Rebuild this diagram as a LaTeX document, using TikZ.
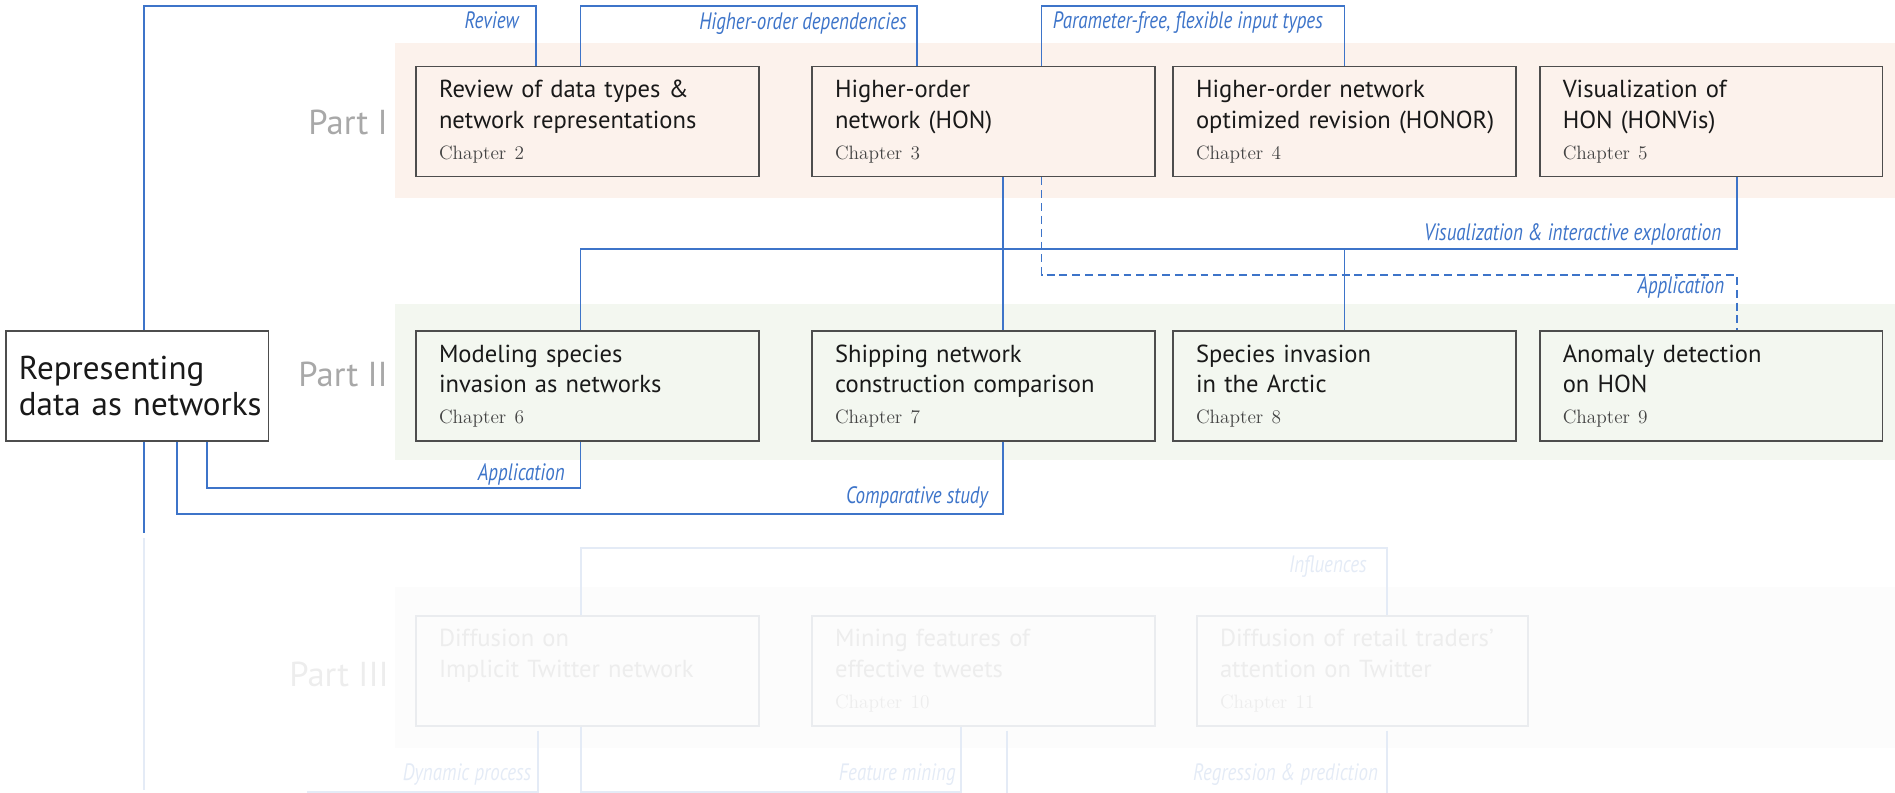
\documentclass[tikz,border=0pt]{standalone}
\usepackage{fontspec}
\usetikzlibrary{calc}
\newfontfamily\boxfont{PT Sans}
\newfontfamily\linkfont[FakeStretch=0.8]{PT Sans}
\definecolor{linkblue}{HTML}{3D74C9}
\definecolor{bgone}{HTML}{FCF2EC}
\definecolor{bgtwo}{HTML}{F3F7F0}
\definecolor{bgthree}{HTML}{FCFCFC}
\definecolor{boxgray}{HTML}{4D4D4D}
\definecolor{partgray}{HTML}{A8A8A8}
\definecolor{chapgray}{HTML}{444444}
\definecolor{fadetext}{HTML}{EDEDED}
\definecolor{fadeline}{HTML}{E4EBF6}
\definecolor{fadebox}{HTML}{EAECEF}
\newcommand{\chtext}[4][chapgray]{\makebox[0pt][l]{#2}\\\makebox[0pt][l]{#3}\\{\rmfamily\color{#1}\fontsize{11}{17.5}\selectfont #4}}
\begin{document}
\begin{tikzpicture}[x=0.02cm,y=-0.02cm,line join=miter,
	link/.style={draw=linkblue,line width=1.1pt},
	fadelink/.style={draw=fadeline,line width=1.1pt},
	lbl/.style={text=linkblue,font=\linkfont\itshape\fontsize{13.5}{15}\selectfont,inner sep=0pt,anchor=base east},
	chbox/.style={draw=boxgray,line width=0.9pt,minimum height=2.2cm,text width=5.94cm,inner xsep=0.46cm,inner ysep=0pt,align=left,font=\boxfont\fontsize{14}{17.5}\selectfont,text=black!90},
	fadebox/.style={chbox,draw=fadebox,text=fadetext},
	repbox/.style={draw=boxgray,fill=white,line width=0.9pt,minimum height=2.2cm,text width=4.73cm,inner xsep=0.26cm,align=left,font=\boxfont\fontsize{18.8}{20.8}\selectfont,text=black!90},
	partlbl/.style={text=partgray,font=\boxfont\fontsize{19.7}{22}\selectfont,inner sep=0pt,anchor=base east}]
	\useasboundingbox (0,0) rectangle (1895,793);
	\fill[bgone] (395,43.3) rectangle (1895,198.3);
	\fill[bgtwo] (395,304) rectangle (1895,460);
	\fill[bgthree] (395,586.7) rectangle (1895,748.3);
	\node[partlbl] (partone) at (388,135) {Part I};
	\node[partlbl] (parttwo) at (388,386.5) {Part II};
	\node[partlbl,text=fadetext] (partthree) at (389,686) {Part III};
	\node[repbox] (rep) at (137.2,386) {\makebox[0pt][l]{Representing}\\\makebox[0pt][l]{data as networks}};
	\node[chbox] (ch2) at (587.5,121.7) {\chtext{Review of data types \&}{network representations}{Chapter 2}};
	\node[chbox] (ch3) at (983.5,121.7) {\chtext{Higher-order}{network (HON)}{Chapter 3}};
	\node[chbox] (ch4) at (1344.5,121.7) {\chtext{Higher-order network}{optimized revision (HONOR)}{Chapter 4}};
	\node[chbox] (ch5) at (1711.2,121.7) {\chtext{Visualization of}{HON (HONVis)}{Chapter 5}};
	\node[chbox] (ch6) at (587.5,386) {\chtext{Modeling species}{invasion as networks}{Chapter 6}};
	\node[chbox] (ch7) at (983.5,386) {\chtext{Shipping network}{construction comparison}{Chapter 7}};
	\node[chbox] (ch8) at (1344.5,386) {\chtext{Species invasion}{in the Arctic}{Chapter 8}};
	\node[chbox] (ch9) at (1711.2,386) {\chtext{Anomaly detection}{on HON}{Chapter 9}};
	\node[fadebox] (diff) at (587.5,670.8) {\chtext[fadetext]{Diffusion on}{Implicit Twitter network}{\phantom{Chapter}}};
	\node[fadebox] (mining) at (983.5,670.8) {\chtext[fadetext]{Mining features of}{effective tweets}{Chapter 10}};
	\node[fadebox,text width=5.7cm] (ch11) at (1362.5,670.8) {\chtext[fadetext]{Diffusion of retail traders’}{attention on Twitter}{Chapter 11}};
	\coordinate (topbus) at (0,6);
	\coordinate (visbus) at (0,249.3);
	\coordinate (appbus) at (0,275);
	\coordinate (usebus) at (0,488.3);
	\coordinate (cmpbus) at (0,514.3);
	\coordinate (infbus) at (0,548.3);
	\coordinate (lowbus) at (0,791.7);
	\coordinate (rv1) at ($(rep.north)+(6.4,0)$);
	\coordinate (rv2) at ($(ch2.north)+(-51.5,0)$);
	\coordinate (hd1) at ($(ch2.north)+(-7,0)$);
	\coordinate (hd2) at ($(ch3.north)+(-66.8,0)$);
	\coordinate (pf1) at ($(ch3.north)+(58,0)$);
	\coordinate (sh1) at ($(ch3.south)+(19.5,0)$);
	\coordinate (sh2) at ($(ch7.north)+(19.5,0)$);
	\coordinate (vi1) at ($(ch5.south)+(25.6,0)$);
	\coordinate (vi2) at ($(ch6.north)+(-7,0)$);
	\coordinate (ap1) at ($(ch3.south)+(58,0)$);
	\coordinate (ap2) at ($(ch9.north)+(26,0)$);
	\coordinate (us1) at ($(ch6.south)+(-7,0)$);
	\coordinate (us2) at ($(rep.south)+(70,0)$);
	\coordinate (cm1) at ($(rep.south)+(39.8,0)$);
	\coordinate (cm2) at ($(ch7.south)+(19.5,0)$);
	\coordinate (tail) at ($(rep.south)+(6.4,0)$);
	\coordinate (tailend) at (143.6,533.3);
	\draw[link] (rv1) -- (rv1 |- topbus) -| (rv2);
	\draw[link] (hd1) -- (hd1 |- topbus) -| (hd2);
	\draw[link] (pf1) -- (pf1 |- topbus) -| (ch4.north);
	\draw[link] (sh1) -- (sh2);
	\draw[link] (vi1) -- (vi1 |- visbus) -| (vi2);
	\draw[link] (ch8.north) -- (ch8.north |- visbus);
	\draw[link,dash pattern=on 4.5pt off 2.8pt] (ap1) -- (ap1 |- appbus) -| (ap2);
	\draw[link] (us1) -- (us1 |- usebus) -| (us2);
	\draw[link] (cm1) -- (cm1 |- cmpbus) -| (cm2);
	\draw[link] (tail) -- (tailend);
	\coordinate (ftail) at (143.6,538);
	\coordinate (ftailend) at (143.6,790);
	\coordinate (in1) at ($(diff.north)+(-6.5,0)$);
	\coordinate (in2) at ($(ch11.north)+(24.8,0)$);
	\coordinate (dy1) at ($(diff.south)+(-49.2,4)$);
	\coordinate (dyend) at (307,791.7);
	\coordinate (fm1) at ($(diff.south)+(-6.5,0)$);
	\coordinate (fm2) at ($(mining.south)+(-22.7,0)$);
	\coordinate (mo1) at ($(mining.south)+(23.5,4)$);
	\coordinate (rg1) at ($(ch11.south)+(24.8,4)$);
	\draw[fadelink] (ftail) -- (ftailend);
	\draw[fadelink] (in1) -- (in1 |- infbus) -| (in2);
	\draw[fadelink] (dy1) |- (dyend);
	\draw[fadelink] (fm1) -- (fm1 |- lowbus) -| (fm2);
	\draw[fadelink] (mo1) -- (mo1 |- 0,793);
	\draw[fadelink] (rg1) -- (rg1 |- 0,793);
	\node[lbl] (lreview) at (519,29) {Review};
	\node[lbl] (lhigher) at (907,30) {Higher-order dependencies};
	\node[lbl,anchor=base west] (lparam) at (1052.5,29) {Parameter-free, flexible input types};
	\node[lbl] (lvis) at (1721.5,240.5) {Visualization \& interactive exploration};
	\node[lbl] (lapptop) at (1724.6,294) {Application};
	\node[lbl] (lappbot) at (565,480.5) {Application};
	\node[lbl] (lcomp) at (988.3,503.3) {Comparative study};
	\node[lbl,text=fadeline] (linfl) at (1367,572) {Influences};
	\node[lbl,text=fadeline] (ldyn) at (531.5,780.5) {Dynamic process};
	\node[lbl,text=fadeline] (lfeat) at (956,780.5) {Feature mining};
	\node[lbl,text=fadeline] (lregr) at (1378.3,780.5) {Regression \& prediction};
\end{tikzpicture}
\end{document}
